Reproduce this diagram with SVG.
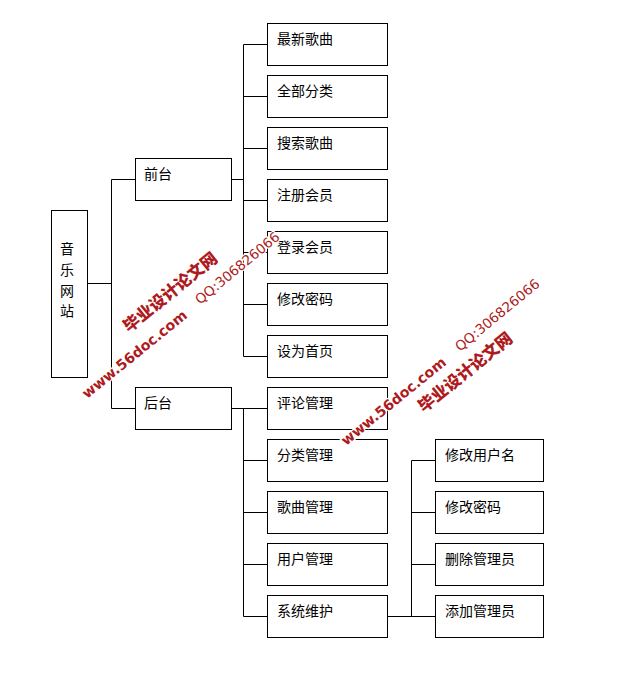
<svg xmlns="http://www.w3.org/2000/svg" width="642" height="692" viewBox="0 0 642 692">
<style>
.b{fill:#fff;stroke:#000;stroke-width:1}
.c{fill:none;stroke:#000;stroke-width:1}
.t{font:14px "Noto Sans CJK SC","Liberation Sans",sans-serif;fill:#000}
.w{fill:#ad1a20;stroke:#fff;stroke-width:2.5;paint-order:stroke;font-family:"DejaVu Sans","Noto Sans CJK SC",sans-serif}
.w1{font-size:16.5px;font-weight:900;font-family:"Noto Sans CJK SC",sans-serif}
.w2{font-size:14.2px;font-weight:700}
.w3{font-size:13.7px}
</style>
<rect width="642" height="692" fill="#fff"/>
<g id="connectors" class="c">
<path d="M87.5 283.5H111.5M111.5 179.5V408.5M111.5 179.5H135.5M111.5 408.5H135.5"/>
<path d="M231.5 179.5H243.5M243.5 44.5V356.5M243.5 44.5H267.5M243.5 96.5H267.5M243.5 148.5H267.5M243.5 200.5H267.5M243.5 252.5H267.5M243.5 304.5H267.5M243.5 356.5H267.5"/>
<path d="M231.5 408.5H267.5M243.5 408.5V616.5M243.5 460.5H267.5M243.5 512.5H267.5M243.5 564.5H267.5M243.5 616.5H267.5"/>
<path d="M387.5 616.5H435.5M411.5 460.5V616.5M411.5 460.5H435.5M411.5 512.5H435.5M411.5 564.5H435.5"/>
</g>
<g id="root"><rect class="b" x="51.5" y="210.5" width="36" height="167"/>
<text class="t" x="60" y="254">音</text><text class="t" x="60" y="275">乐</text><text class="t" x="60" y="296">网</text><text class="t" x="60" y="316">站</text></g>
<g id="n-qiantai"><rect class="b" x="135.5" y="158.5" width="96" height="42"/><text class="t" x="144" y="179">前台</text></g>
<g id="n-houtai"><rect class="b" x="135.5" y="387.5" width="96" height="42"/><text class="t" x="144" y="408">后台</text></g>
<g id="n1"><rect class="b" x="267.5" y="23.5" width="120" height="42"/><text class="t" x="277" y="44">最新歌曲</text></g>
<g id="n2"><rect class="b" x="267.5" y="75.5" width="120" height="42"/><text class="t" x="277" y="96">全部分类</text></g>
<g id="n3"><rect class="b" x="267.5" y="127.5" width="120" height="42"/><text class="t" x="277" y="148">搜索歌曲</text></g>
<g id="n4"><rect class="b" x="267.5" y="179.5" width="120" height="42"/><text class="t" x="277" y="200">注册会员</text></g>
<g id="n5"><rect class="b" x="267.5" y="231.5" width="120" height="42"/><text class="t" x="277" y="252">登录会员</text></g>
<g id="n6"><rect class="b" x="267.5" y="283.5" width="120" height="42"/><text class="t" x="277" y="304">修改密码</text></g>
<g id="n7"><rect class="b" x="267.5" y="335.5" width="120" height="42"/><text class="t" x="277" y="356">设为首页</text></g>
<g id="n8"><rect class="b" x="267.5" y="387.5" width="120" height="42"/><text class="t" x="277" y="408">评论管理</text></g>
<g id="n9"><rect class="b" x="267.5" y="439.5" width="120" height="42"/><text class="t" x="277" y="460">分类管理</text></g>
<g id="n10"><rect class="b" x="267.5" y="491.5" width="120" height="42"/><text class="t" x="277" y="512">歌曲管理</text></g>
<g id="n11"><rect class="b" x="267.5" y="543.5" width="120" height="42"/><text class="t" x="277" y="564">用户管理</text></g>
<g id="n12"><rect class="b" x="267.5" y="595.5" width="120" height="42"/><text class="t" x="277" y="616">系统维护</text></g>
<g id="n13"><rect class="b" x="435.5" y="439.5" width="108" height="42"/><text class="t" x="445" y="460">修改用户名</text></g>
<g id="n14"><rect class="b" x="435.5" y="491.5" width="108" height="42"/><text class="t" x="445" y="512">修改密码</text></g>
<g id="n15"><rect class="b" x="435.5" y="543.5" width="108" height="42"/><text class="t" x="445" y="564">删除管理员</text></g>
<g id="n16"><rect class="b" x="435.5" y="595.5" width="108" height="42"/><text class="t" x="445" y="616">添加管理员</text></g>
<g id="watermark">
<text class="w w1" transform="translate(129 333) rotate(-39)">毕业设计论文网</text>
<text class="w w2" transform="translate(87 399) rotate(-39)">www.56doc.com</text>
<text class="w w3" transform="translate(200 305) rotate(-39.5)">QQ:306826066</text>
<text class="w w1" transform="translate(424 413) rotate(-39)">毕业设计论文网</text>
<text class="w w2" transform="translate(346 446) rotate(-39)">www.56doc.com</text>
<text class="w w3" transform="translate(460 352) rotate(-39.5)">QQ:306826066</text>
</g>
</svg>
